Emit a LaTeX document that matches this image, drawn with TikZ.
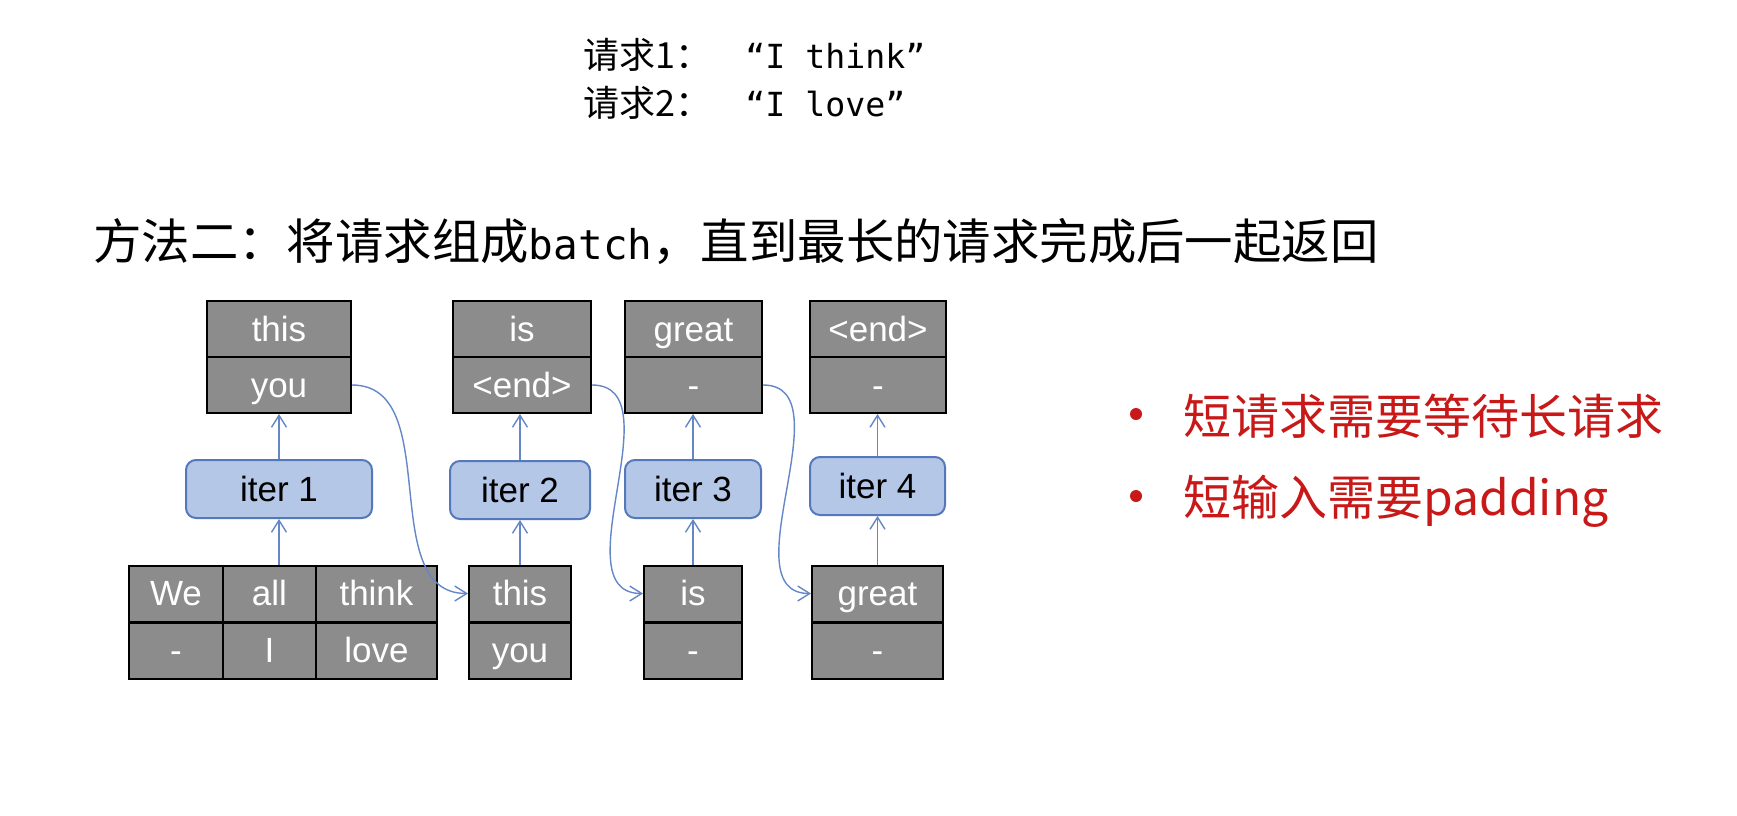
\documentclass[tikz,border=0pt]{standalone}
\usepackage{fontspec}
\setmainfont{Liberation Sans}
\newfontfamily\cjk{Noto Sans CJK SC}
\newfontfamily\monofont{DejaVu Sans Mono}
\usetikzlibrary{arrows.meta}
\definecolor{cellgray}{RGB}{140,140,140}
\definecolor{iterfill}{RGB}{180,199,231}
\definecolor{iterdraw}{RGB}{84,120,186}
\definecolor{linkblue}{RGB}{100,135,200}
\definecolor{notered}{RGB}{200,24,24}
\begin{document}
\begin{tikzpicture}[x=0.5pt,y=-0.5pt,
  cell/.style={draw=black, line width=1pt, fill=cellgray, text=white,
    font=\fontsize{17.5}{17.5}\selectfont, inner sep=0pt, minimum height=28pt,
    text height=13.5pt, text depth=1.5pt},
  iterbox/.style={draw=iterdraw, line width=1pt, fill=iterfill, rounded corners=5pt,
    font=\fontsize{17.5}{17.5}\selectfont, inner sep=0pt, minimum height=29pt,
    text height=13.5pt, text depth=1.5pt},
  link/.style={draw=linkblue, line width=0.7pt, -{Straight Barb[length=6pt,width=7.5pt]}},
  heading/.style={anchor=base west, inner sep=0pt, font=\cjk\fontsize{24.2}{24.2}\selectfont},
  request/.style={anchor=base west, inner sep=0pt, font=\cjk\fontsize{18}{18}\selectfont},
  note/.style={anchor=base west, inner sep=0pt, text=notered, font=\cjk\fontsize{24}{24}\selectfont},
  dot/.style={circle, fill=notered, inner sep=0pt, minimum size=6pt},
]
\useasboundingbox[fill=white] (0,0) rectangle (1737,815);

% requests
\node[request] (r1) at (583,68) {请求1：};
\node[request] (r1q) at (745,68) {\monofont\fontsize{16.6}{16.6}\selectfont “I think”};
\node[request] (r2) at (583,116) {请求2：};
\node[request] (r2q) at (745,116) {\monofont\fontsize{16.6}{16.6}\selectfont “I love”};

% heading
\node[heading] (title) at (93,259) {方法二：将请求组成{\monofont\fontsize{20.5}{20.5}\selectfont batch}，直到最长的请求完成后一起返回};

% column 1
\node[cell, minimum width=72pt] (t1a) at (279,329) {this};
\node[cell, minimum width=72pt] (t1b) at (279,385) {you};
\node[iterbox, minimum width=93pt, minimum height=29pt] (iter1) at (279,489) {iter 1};
\node[cell, minimum width=47pt] (g1) at (176,593.5) {We};
\node[cell, minimum width=46.5pt] (g2) at (269.5,593.5) {all};
\node[cell, minimum width=60.5pt] (g3) at (376.5,593.5) {think};
\node[cell, minimum width=47pt] (g4) at (176,650.5) {-};
\node[cell, minimum width=46.5pt] (g5) at (269.5,650.5) {I};
\node[cell, minimum width=60.5pt] (g6) at (376.5,650.5) {love};

% column 2
\node[cell, minimum width=69pt] (t2a) at (522,329) {is};
\node[cell, minimum width=69pt] (t2b) at (522,385) {<end>};
\node[iterbox, minimum width=70pt] (iter2) at (520,490) {iter 2};
\node[cell, minimum width=51pt] (b2a) at (520,593.5) {this};
\node[cell, minimum width=51pt] (b2b) at (520,650.5) {you};

% column 3
\node[cell, minimum width=68.5pt] (t3a) at (693.5,329) {great};
\node[cell, minimum width=68.5pt] (t3b) at (693.5,385) {-};
\node[iterbox, minimum width=68pt] (iter3) at (693,489) {iter 3};
\node[cell, minimum width=49pt] (b3a) at (693,593.5) {is};
\node[cell, minimum width=49pt] (b3b) at (693,650.5) {-};

% column 4
\node[cell, minimum width=68pt] (t4a) at (878,329) {<end>};
\node[cell, minimum width=68pt] (t4b) at (878,385) {-};
\node[iterbox, minimum width=67.5pt] (iter4) at (877.5,486) {iter 4};
\node[cell, minimum width=65.5pt] (b4a) at (877.5,593.5) {great};
\node[cell, minimum width=65.5pt] (b4b) at (877.5,650.5) {-};

% data flow through each iteration
\draw[link] (iter1.south |- g2.north) -- (iter1.south);
\draw[link] (iter1.north) -- (t1b.south);
\draw[link] (b2a.north) -- (iter2.south);
\draw[link] (iter2.north) -- (iter2.north |- t2b.south);
\draw[link] (b3a.north) -- (iter3.south);
\draw[link] (iter3.north) -- (iter3.north |- t3b.south);
\draw[link] (b4a.north) -- (iter4.south);
\draw[link] (iter4.north) -- (iter4.north |- t4b.south);

% outputs fed back as next inputs
\draw[link] (t1b.east) to[out=0,in=180] (b2a.west);
\draw[link] (t2b.east) to[out=0,in=180] (b3a.west);
\draw[link] (t3b.east) to[out=0,in=180] (b4a.west);

% notes
\node[dot] (d1) at (1136,414) {};
\node[note] (n1) at (1183,434) {短请求需要等待长请求};
\node[dot] (d2) at (1136,496) {};
\node[note] (n2) at (1183,515) {短输入需要padding};
\end{tikzpicture}
\end{document}
